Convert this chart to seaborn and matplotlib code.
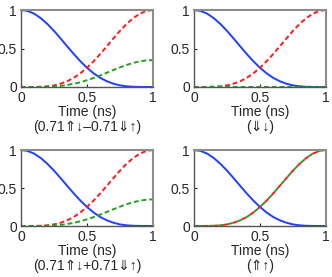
import matplotlib
matplotlib.use('Agg')
import matplotlib.pyplot as plt
import pandas as pd
import seaborn as sns

# values (populations vs time)
time_ns = [0.00, 0.05, 0.10, 0.15, 0.20, 0.25, 0.30, 0.35, 0.40, 0.45, 0.50,
           0.55, 0.60, 0.65, 0.70, 0.75, 0.80, 0.85, 0.90, 0.95, 1.00]
blue_pop = [1.000, 0.988, 0.952, 0.894, 0.818, 0.729, 0.630, 0.528, 0.428, 0.334, 0.250,
            0.178, 0.119, 0.075, 0.043, 0.021, 0.009, 0.003, 0.001, 0.000, 0.000]
red_pop = [0.000, 0.000, 0.001, 0.003, 0.009, 0.021, 0.043, 0.075, 0.119, 0.178, 0.250,
           0.334, 0.428, 0.528, 0.630, 0.729, 0.818, 0.894, 0.952, 0.988, 1.000]
green_mixed = [0.000, 0.000, 0.000, 0.001, 0.003, 0.007, 0.015, 0.026, 0.042, 0.062, 0.088,
               0.117, 0.150, 0.185, 0.221, 0.255, 0.286, 0.313, 0.333, 0.346, 0.350]
green_zero = [0.0] * 21
green_same = red_pop

subtitles = ['(0.71\u21d1\u2193\u20130.71\u21d3\u2191)', '(\u21d3\u2193)',
             '(0.71\u21d1\u2193+0.71\u21d3\u2191)', '(\u21d1\u2191)']
greens = [green_mixed, green_zero, green_mixed, green_same]

sns.set_style('ticks')
plt.rcParams['font.family'] = ['Liberation Sans', 'DejaVu Sans']
plt.rcParams['font.size'] = 10

fig = plt.figure(figsize=(3.32, 2.77), dpi=100)
W, H = 332, 277
boxes = [(21, 10, 153, 87), (194, 10, 326, 87), (21, 150, 153, 226), (194, 150, 326, 226)]

palette = {'blue': '#1f3fff', 'red': '#ff1a1a', 'green': '#22a022'}
dashes = {'blue': '', 'red': (2.5, 1.5), 'green': (2.5, 1.5)}

for i, (x0, y0, x1, y1) in enumerate(boxes):
    ax = fig.add_axes([x0 / W, (H - y1) / H, (x1 - x0) / W, (y1 - y0) / H])
    df = pd.DataFrame({
        't': time_ns * 3,
        'p': blue_pop + red_pop + greens[i],
        'state': ['blue'] * 21 + ['red'] * 21 + ['green'] * 21,
    })
    sns.lineplot(data=df, x='t', y='p', hue='state', style='state', palette=palette,
                 dashes=dashes, linewidth=1.4, legend=False, ax=ax)
    if i == 3:
        # green overlaps red exactly: shift its dashes so both colours show
        ax.lines[2].set_linestyle((2.5, (2.5, 2.5)))
        ax.lines[1].set_linestyle((0, (2.5, 2.5)))
    ax.set_xlim(0, 1)
    ax.set_ylim(0, 1)
    ax.set_xticks([0, 0.5, 1])
    ax.set_yticks([0, 0.5, 1])
    ax.set_xticklabels(['0', '0.5', '1'])
    ax.set_yticklabels(['0', '0.5', '1'])
    ax.tick_params(direction='in', length=2, pad=3, labelsize=10)
    ax.set_ylabel('')
    ax.set_xlabel('Time (ns)\n' + subtitles[i], fontsize=10, labelpad=0, linespacing=1.1)
    for side in ['top', 'right']:
        ax.spines[side].set_visible(True)
        ax.spines[side].set_color('#8c8c8c')
        ax.spines[side].set_linewidth(1.5)
    for side in ['left', 'bottom']:
        ax.spines[side].set_color('#555555')
        ax.spines[side].set_linewidth(1.0)

fig.savefig('out.png', dpi=100)
